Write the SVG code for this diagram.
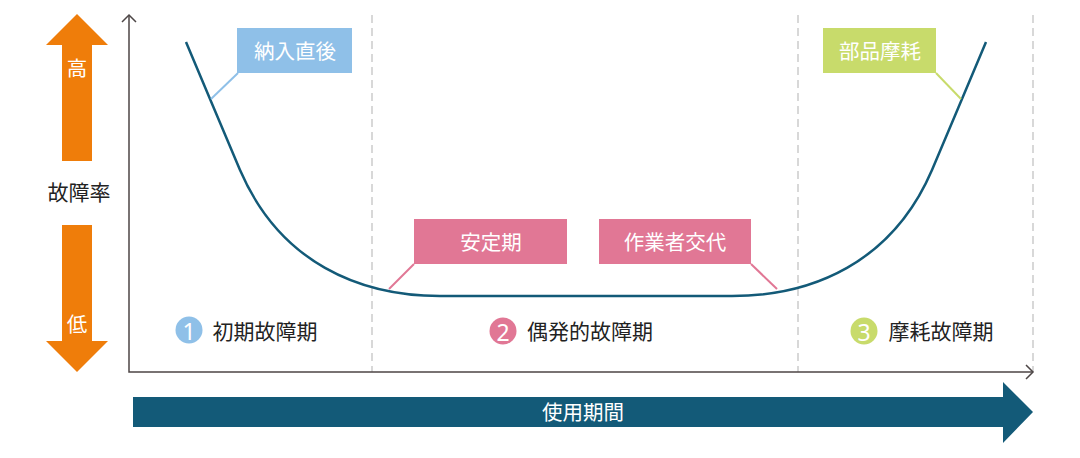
<svg xmlns="http://www.w3.org/2000/svg" width="1080" height="458" viewBox="0 0 1080 458">
<style>
text{font-family:"Noto Sans CJK JP","Noto Sans",sans-serif;dominant-baseline:central;text-anchor:middle}
.w{fill:#fff;font-size:20.5px}
.k{fill:#222;font-size:21px}
.num{fill:#fff;font-size:23px;font-family:"Noto Sans","Liberation Sans",sans-serif}
.axis{stroke:#4d4646;stroke-width:1.5;fill:none}
.dash{stroke:#c4c4c4;stroke-width:1.3;stroke-dasharray:8 5;fill:none}
.curve{stroke:#135a78;stroke-width:2.5;fill:none}
.orange{fill:#ef7d0a}
.blue{fill:#8fc0e8}
.pink{fill:#e17795}
.green{fill:#c8db6b}
</style>
<rect width="1080" height="458" fill="#fff"/>

<g id="high-arrow">
<polygon class="orange" points="77,14 108,45 92,45 92,161 62,161 62,45 46,45"/>
<text class="w" x="77" y="67">高</text>
</g>
<g id="rate-label"><text class="k" x="79" y="191">故障率</text></g>
<g id="low-arrow">
<polygon class="orange" points="62,225 92,225 92,341 108,341 77,372 46,341 62,341"/>
<text class="w" x="77" y="323">低</text>
</g>

<g id="axes">
<path class="dash" d="M372,15V372M798,15V372M1033,15V372"/>
<path class="axis" d="M129,15V372H1033"/>
<path class="axis" d="M122,22L129,15L136,22M1026,365L1033,372L1026,379"/>
</g>

<g id="time-arrow">
<polygon fill="#135a78" points="133,397 1003,397 1003,382 1033,412 1003,443 1003,427 133,427"/>
<text class="w" x="583" y="411">使用期間</text>
</g>

<g id="connectors">
<path class="curve" d="M186,42C200,75 225,135 240,170C280,263 360,296 440,296L732,296C812,296 892,263 932,170C947,135 972,75 986,42"/>
<path d="M238,73L211,99" stroke="#8fc0e8" stroke-width="2" fill="none"/>
<path d="M414,264L389,289" stroke="#e17795" stroke-width="2" fill="none"/>
<path d="M751,264L777,289" stroke="#e17795" stroke-width="2" fill="none"/>
<path d="M936,73L961,99" stroke="#c8db6b" stroke-width="2" fill="none"/>
</g>

<g id="callout-nyuuka">
<rect class="blue" x="237" y="28" width="115" height="45"/>
<text class="w" x="295" y="50">納入直後</text>
</g>
<g id="callout-antei">
<rect class="pink" x="414" y="219" width="153" height="45"/>
<text class="w" x="491" y="241">安定期</text>
</g>
<g id="callout-sagyou">
<rect class="pink" x="599" y="219" width="152" height="45"/>
<text class="w" x="675" y="241">作業者交代</text>
</g>
<g id="callout-buhin">
<rect class="green" x="823" y="28" width="113" height="45"/>
<text class="w" x="880" y="50">部品摩耗</text>
</g>

<g id="phase-1">
<circle class="blue" cx="189" cy="330" r="13.5"/>
<text class="num" x="189" y="331">1</text>
<text class="k" x="265" y="330">初期故障期</text>
</g>
<g id="phase-2">
<circle class="pink" cx="503" cy="331" r="13.5"/>
<text class="num" x="503" y="332">2</text>
<text class="k" x="590" y="330">偶発的故障期</text>
</g>
<g id="phase-3">
<circle class="green" cx="864" cy="331" r="13.5"/>
<text class="num" x="864" y="332">3</text>
<text class="k" x="941" y="330">摩耗故障期</text>
</g>
</svg>
